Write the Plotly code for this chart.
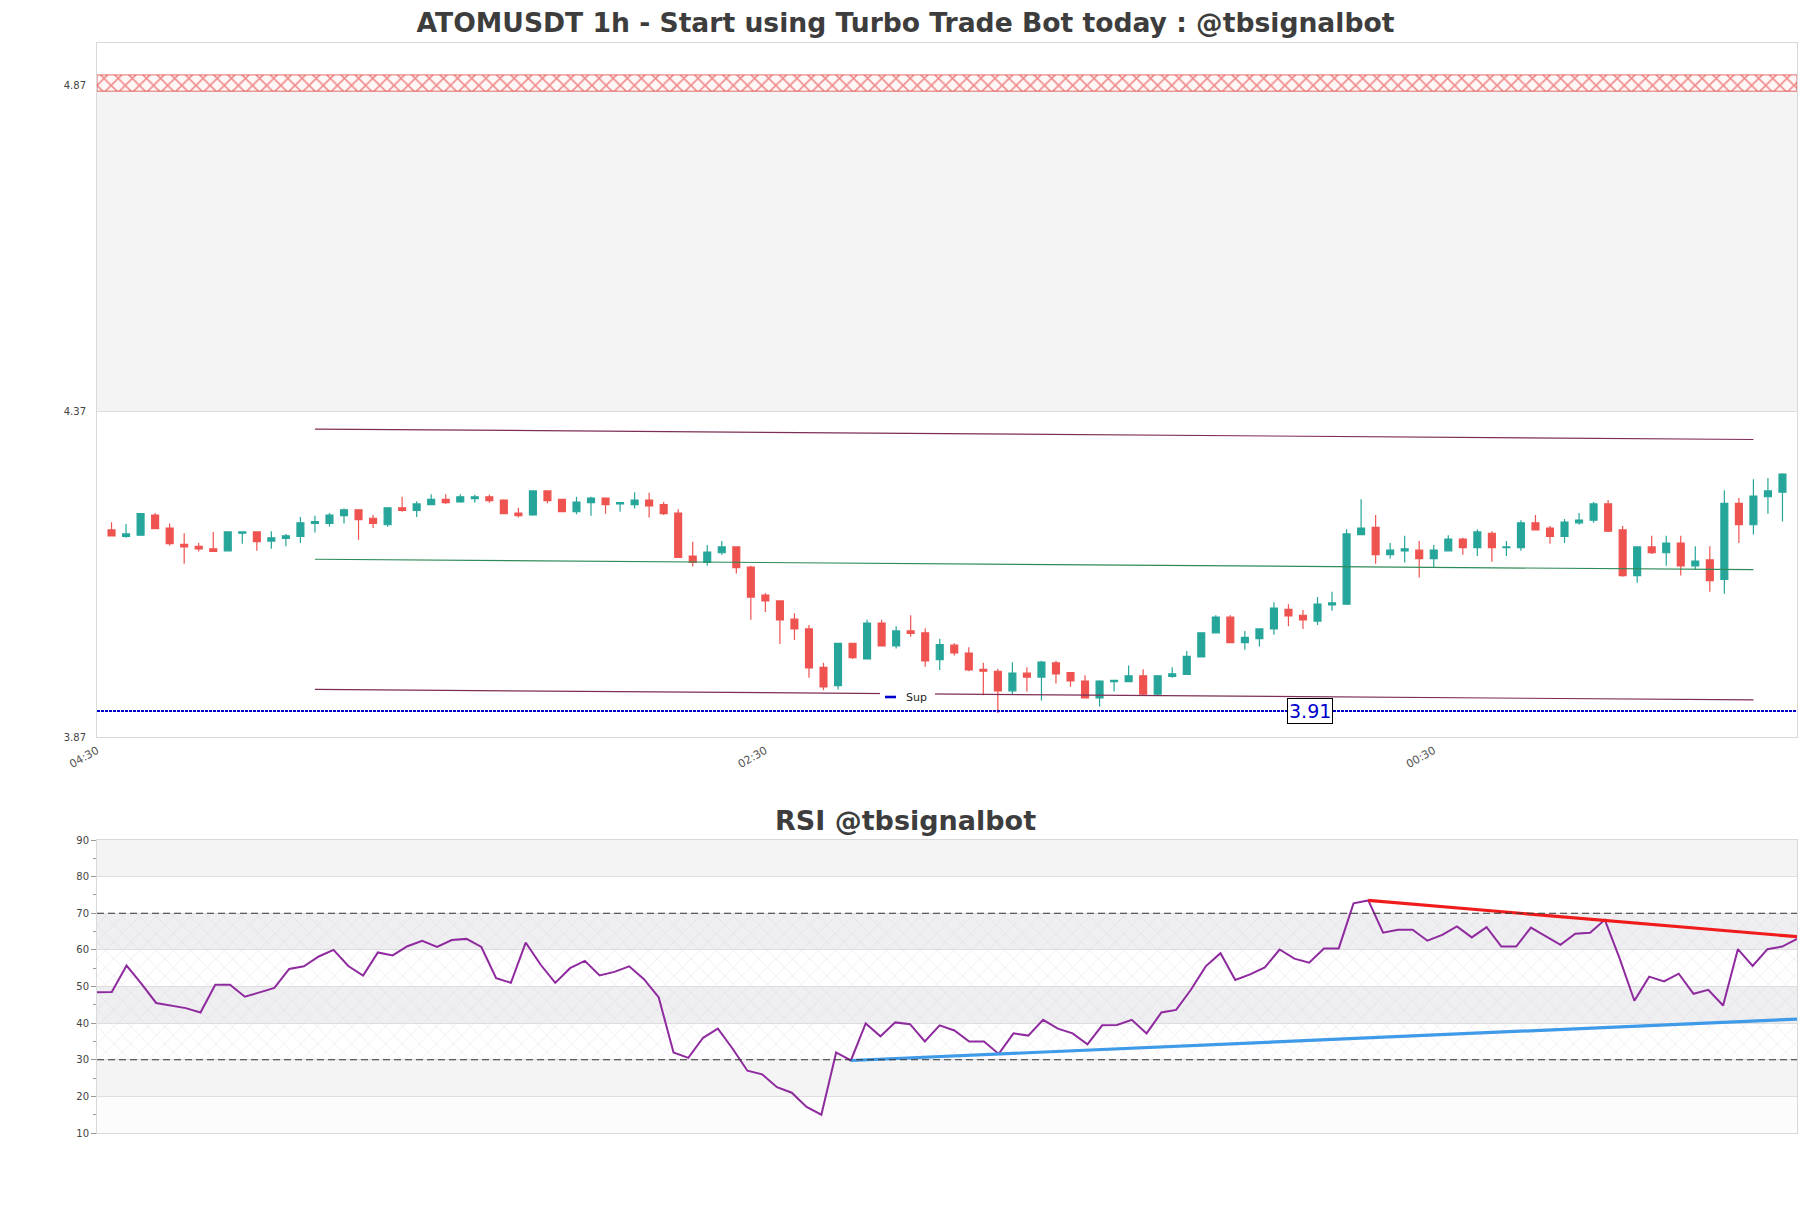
import plotly.graph_objects as go

# ---------------- data ----------------
x_tick_labels = ["04:30", "02:30", "00:30"]
x_tick_pos = [-1, 45, 91]

opens = [4.188, 4.178, 4.180, 4.211, 4.191, 4.166, 4.163, 4.159, 4.156, 4.183,
         4.185, 4.171, 4.175, 4.178, 4.198, 4.198, 4.210, 4.219, 4.206, 4.196,
         4.222, 4.218, 4.227, 4.235, 4.231, 4.236, 4.239, 4.234, 4.214, 4.211,
         4.248, 4.235, 4.216, 4.230, 4.237, 4.228, 4.227, 4.234, 4.227, 4.214,
         4.148, 4.138, 4.153, 4.162, 4.131, 4.088, 4.079, 4.051, 4.036, 3.977,
         3.949, 4.014, 3.990, 4.045, 4.010, 4.033, 4.030, 3.989, 4.011, 3.999,
         3.974, 3.971, 3.941, 3.968, 3.962, 3.984, 3.969, 3.956, 3.930, 3.955,
         3.955, 3.964, 3.936, 3.963, 3.966, 3.993, 4.030, 4.054, 4.015, 4.021,
         4.036, 4.066, 4.057, 4.048, 4.073, 4.074, 4.181, 4.192, 4.150, 4.156,
         4.157, 4.144, 4.156, 4.174, 4.161, 4.183, 4.161, 4.161, 4.199, 4.191,
         4.178, 4.199, 4.203, 4.228, 4.188, 4.118, 4.162, 4.153, 4.168, 4.133,
         4.142, 4.112, 4.229, 4.196, 4.239, 4.246]
highs = [4.200, 4.197, 4.214, 4.214, 4.198, 4.183, 4.168, 4.185, 4.186, 4.186,
         4.185, 4.186, 4.182, 4.208, 4.210, 4.214, 4.221, 4.219, 4.211, 4.222,
         4.239, 4.232, 4.243, 4.243, 4.243, 4.242, 4.242, 4.235, 4.222, 4.248,
         4.248, 4.236, 4.239, 4.239, 4.237, 4.230, 4.246, 4.245, 4.231, 4.220,
         4.170, 4.165, 4.171, 4.163, 4.133, 4.091, 4.079, 4.060, 4.042, 3.984,
         4.014, 4.014, 4.050, 4.050, 4.040, 4.057, 4.037, 4.021, 4.014, 4.008,
         3.984, 3.975, 3.985, 3.977, 3.987, 3.987, 3.970, 3.965, 3.957, 3.957,
         3.980, 3.974, 3.964, 3.977, 4.002, 4.031, 4.057, 4.057, 4.033, 4.037,
         4.077, 4.074, 4.065, 4.085, 4.093, 4.189, 4.235, 4.211, 4.168, 4.179,
         4.171, 4.165, 4.180, 4.176, 4.189, 4.186, 4.171, 4.203, 4.211, 4.194,
         4.205, 4.214, 4.231, 4.234, 4.194, 4.163, 4.179, 4.179, 4.179, 4.163,
         4.163, 4.249, 4.237, 4.266, 4.268, 4.275]
lows = [4.178, 4.176, 4.179, 4.189, 4.164, 4.136, 4.155, 4.154, 4.155, 4.167,
        4.156, 4.159, 4.163, 4.168, 4.184, 4.193, 4.198, 4.173, 4.191, 4.193,
        4.216, 4.208, 4.227, 4.228, 4.230, 4.230, 4.230, 4.213, 4.207, 4.210,
        4.229, 4.216, 4.212, 4.210, 4.213, 4.216, 4.221, 4.207, 4.211, 4.146,
        4.132, 4.133, 4.150, 4.121, 4.050, 4.062, 4.013, 4.019, 3.961, 3.942,
        3.943, 3.990, 3.990, 4.009, 4.006, 4.024, 3.978, 3.973, 3.995, 3.971,
        3.934, 3.907, 3.935, 3.940, 3.926, 3.952, 3.947, 3.929, 3.917, 3.940,
        3.955, 3.933, 3.933, 3.961, 3.966, 3.992, 4.029, 4.015, 4.004, 4.009,
        4.027, 4.040, 4.036, 4.042, 4.064, 4.074, 4.181, 4.136, 4.144, 4.138,
        4.115, 4.130, 4.155, 4.150, 4.148, 4.139, 4.148, 4.156, 4.188, 4.167,
        4.168, 4.196, 4.199, 4.185, 4.116, 4.107, 4.151, 4.133, 4.118, 4.127,
        4.093, 4.090, 4.168, 4.181, 4.213, 4.201]
closes = [4.179, 4.182, 4.213, 4.190, 4.167, 4.162, 4.159, 4.155, 4.185, 4.185,
          4.170, 4.176, 4.179, 4.199, 4.201, 4.211, 4.219, 4.204, 4.198, 4.222,
          4.218, 4.228, 4.235, 4.230, 4.239, 4.239, 4.233, 4.213, 4.210, 4.248,
          4.233, 4.216, 4.231, 4.237, 4.227, 4.230, 4.234, 4.225, 4.213, 4.146,
          4.138, 4.154, 4.162, 4.130, 4.085, 4.079, 4.050, 4.036, 3.976, 3.947,
          4.014, 3.992, 4.045, 4.010, 4.033, 4.029, 3.987, 4.012, 3.999, 3.973,
          3.971, 3.941, 3.968, 3.962, 3.985, 3.967, 3.956, 3.930, 3.956, 3.957,
          3.964, 3.936, 3.964, 3.967, 3.994, 4.030, 4.054, 4.015, 4.023, 4.036,
          4.068, 4.056, 4.050, 4.074, 4.076, 4.182, 4.191, 4.150, 4.157, 4.159,
          4.144, 4.157, 4.174, 4.161, 4.185, 4.161, 4.162, 4.199, 4.188, 4.178,
          4.200, 4.203, 4.228, 4.186, 4.118, 4.162, 4.153, 4.168, 4.133, 4.140,
          4.110, 4.229, 4.196, 4.240, 4.248, 4.274]

rsi = [48.4, 48.5, 55.7, 50.8, 45.5, 44.7, 44.1, 42.9, 50.5, 50.5,
       47.2, 48.4, 49.6, 54.8, 55.5, 58.2, 60.0, 55.6, 53.0, 59.3,
       58.5, 61.0, 62.5, 60.8, 62.7, 63.0, 60.8, 52.3, 51.0, 62.0,
       56.0, 51.0, 55.0, 57.0, 53.0, 54.0, 55.5, 52.0, 47.0, 32.0,
       30.5, 36.0, 38.5, 33.0, 27.0, 26.0, 22.5, 21.0, 17.1, 15.0,
       32.0, 29.8, 39.9, 36.4, 40.2, 39.7, 35.0, 39.4, 38.0, 35.0,
       35.0, 31.6, 37.2, 36.6, 40.9, 38.5, 37.2, 34.2, 39.4, 39.5,
       40.9, 37.2, 42.9, 43.6, 49.1, 55.5, 59.1, 51.8, 53.3, 55.2,
       60.1, 57.6, 56.5, 60.4, 60.4, 72.7, 73.5, 64.7, 65.5, 65.5,
       62.5, 64.1, 66.4, 63.4, 66.2, 60.9, 60.9, 66.1, 63.8, 61.4,
       64.4, 64.7, 68.2, 57.7, 46.1, 52.7, 51.4, 53.5, 48.0, 49.1,
       44.8, 60.2, 55.6, 60.2, 60.9, 63.0]

channel_x = [14, 113]
channel_upper = [4.343, 4.327]
channel_mid = [4.143, 4.127]
channel_lower = [3.943, 3.927]
support_level = 3.91
resistance_zone = [4.862, 4.887]
gray_zone = [4.37, 4.87]
price_ticks = [3.87, 4.37, 4.87]
price_range = [3.87, 4.936]

rsi_res_x = [86, 115]
rsi_res_y = [73.5, 63.6]
rsi_sup_x = [51, 115]
rsi_sup_y = [29.8, 41.1]
rsi_levels = [30, 70]
rsi_ticks = [10, 20, 30, 40, 50, 60, 70, 80, 90]

# ---------------- layout geometry ----------------
W, H = 1811, 1208
ML, MR, MT, MB = 97, 14, 43, 75
PW = W - ML - MR
PH = H - MT - MB


def px_x(p):
    return (p - ML) / PW


def px_y(p):
    return (H - MB - p) / PH


main_dom = [px_y(737), 1.0]
rsi_dom = [0.0, px_y(840)]
n = len(opens)
xs = list(range(n))
x_lo, x_hi = x_tick_pos[0], n
rx = list(range(len(rsi)))

FONT = "DejaVu Sans"
GREEN = "#26a69a"
RED = "#ef5350"

fig = go.Figure()

# resistance hatched zone
fig.add_trace(go.Scatter(
    x=[x_lo, x_hi, x_hi, x_lo, x_lo],
    y=[resistance_zone[0], resistance_zone[0], resistance_zone[1], resistance_zone[1], resistance_zone[0]],
    fill="toself", mode="lines", line=dict(width=0.8, color="rgba(215,30,30,0.8)"),
    fillcolor="rgba(255,255,255,1)",
    fillpattern=dict(shape="x", fgcolor="#e02020", bgcolor="#fff6f6", size=10, solidity=0.3),
    hoverinfo="skip", showlegend=False, xaxis="x", yaxis="y"))

# candles
fig.add_trace(go.Candlestick(
    x=xs, open=opens, high=highs, low=lows, close=closes,
    increasing=dict(line=dict(color=GREEN, width=1.2), fillcolor=GREEN),
    decreasing=dict(line=dict(color=RED, width=1.2), fillcolor=RED),
    whiskerwidth=0, showlegend=False, hoverinfo="skip", xaxis="x", yaxis="y"))

# channel lines
for ys, col in [(channel_upper, "#7d2e55"), (channel_mid, "#2e8b57"), (channel_lower, "#7d2e55")]:
    fig.add_trace(go.Scatter(x=channel_x, y=ys, mode="lines", line=dict(color=col, width=1.2),
                             hoverinfo="skip", showlegend=False, xaxis="x", yaxis="y"))

# RSI hatched zone 30-70
fig.add_trace(go.Scatter(
    x=[rx[0], rx[-1], rx[-1], rx[0], rx[0]],
    y=[rsi_levels[0], rsi_levels[0], rsi_levels[1], rsi_levels[1], rsi_levels[0]],
    fill="toself", mode="lines", line=dict(width=0), fillcolor="rgba(0,0,0,0)",
    fillpattern=dict(shape="x", fgcolor="#cfc6da", bgcolor="rgba(0,0,0,0)", size=12, solidity=0.1),
    hoverinfo="skip", showlegend=False, xaxis="x2", yaxis="y2"))

# RSI line
fig.add_trace(go.Scatter(x=rx, y=rsi, mode="lines", line=dict(color="#8e2a9e", width=2),
                         hoverinfo="skip", showlegend=False, xaxis="x2", yaxis="y2"))
fig.add_trace(go.Scatter(x=rsi_res_x, y=rsi_res_y, mode="lines", line=dict(color="#f01c1c", width=3.2),
                         hoverinfo="skip", showlegend=False, xaxis="x2", yaxis="y2"))
fig.add_trace(go.Scatter(x=rsi_sup_x, y=rsi_sup_y, mode="lines", line=dict(color="#3f9be8", width=3.2),
                         hoverinfo="skip", showlegend=False, xaxis="x2", yaxis="y2"))

shapes = []
# main gray band
shapes.append(dict(type="rect", xref="x domain", yref="y", x0=0, x1=1, y0=gray_zone[0], y1=gray_zone[1],
                   fillcolor="#f4f4f4", line=dict(width=0), layer="below"))
# RSI bands
for lo, hi, col in [(80, 90, "#f4f4f4"), (60, 70, "#efeff1"), (40, 50, "#efeff1"), (20, 30, "#f4f4f4"), (10, 20, "#fcfcfc")]:
    shapes.append(dict(type="rect", xref="x2 domain", yref="y2", x0=0, x1=1, y0=lo, y1=hi,
                       fillcolor=col, line=dict(width=0), layer="below"))
for lv in rsi_levels:
    shapes.append(dict(type="line", xref="x2 domain", yref="y2", x0=0, x1=1, y0=lv, y1=lv,
                       line=dict(color="#333333", width=1.2, dash="7px,4px"), layer="above"))
# support dotted line
shapes.append(dict(type="line", xref="x domain", yref="y", x0=0, x1=1, y0=support_level, y1=support_level,
                   line=dict(color="#0000cc", width=2, dash="3px,1px"), layer="above"))
# legend box "Sup"
shapes.append(dict(type="rect", xref="paper", yref="paper", x0=px_x(880), x1=px_x(935),
                   y0=px_y(705), y1=px_y(689), fillcolor="white", line=dict(width=0), layer="above"))
shapes.append(dict(type="line", xref="paper", yref="paper", x0=px_x(885), x1=px_x(896),
                   y0=px_y(697), y1=px_y(697), line=dict(color="#0000cc", width=2.6), layer="above"))

annotations = [
    dict(text="Sup", xref="paper", yref="paper", x=px_x(904), y=px_y(697), xanchor="left", yanchor="middle",
         showarrow=False, font=dict(family=FONT, size=11, color="#222222")),
    dict(text="%.2f" % support_level, xref="paper", yref="y", x=px_x(1310), y=support_level,
         xanchor="center", yanchor="middle", showarrow=False,
         font=dict(family=FONT, size=19, color="#0000cc"), bgcolor="white",
         bordercolor="black", borderwidth=1, borderpad=1),
    dict(text="<b>RSI @tbsignalbot</b>", xref="paper", yref="paper", x=px_x(W / 2), y=px_y(820),
         xanchor="center", yanchor="middle", showarrow=False,
         font=dict(family=FONT, size=27, color="#3d3d3d")),
]

axis_line = "#d9d9d9"
fig.update_layout(
    width=W, height=H,
    margin=dict(l=ML, r=MR, t=MT, b=MB, pad=0),
    paper_bgcolor="white", plot_bgcolor="white",
    font=dict(family=FONT, color="#444444"),
    hovermode=False,
    boxgap=0.32,
    title=dict(text="<b>ATOMUSDT 1h - Start using Turbo Trade Bot today : @tbsignalbot</b>",
               x=0.5, xanchor="center", xref="container", y=1 - 23 / H, yanchor="middle", yref="container",
               font=dict(family=FONT, size=26.6, color="#3d3d3d")),
    xaxis=dict(domain=[0, 1], anchor="y", range=[x_lo, x_hi], tickmode="array", tickvals=x_tick_pos,
               ticktext=x_tick_labels, tickangle=-30, tickfont=dict(size=11, color="#555555"),
               showgrid=False, zeroline=False, showline=True, mirror=True, linecolor=axis_line,
               rangeslider=dict(visible=False), ticks="outside", ticklen=2, tickcolor="rgba(0,0,0,0)"),
    yaxis=dict(domain=main_dom, anchor="x", range=price_range, tickmode="array", tickvals=price_ticks,
               ticktext=["%.2f" % v for v in price_ticks], tickfont=dict(size=10, color="#444444"),
               showgrid=True, gridcolor="#dedede", zeroline=False, showline=True, mirror=True,
               linecolor=axis_line, ticks="outside", ticklen=8, tickcolor="rgba(0,0,0,0)"),
    xaxis2=dict(domain=[0, 1], anchor="y2", range=[rx[0], rx[-1]], showticklabels=False, showgrid=False,
                zeroline=False, showline=True, mirror=True, linecolor=axis_line, ticks=""),
    yaxis2=dict(domain=rsi_dom, anchor="x2", range=[rsi_ticks[0], rsi_ticks[-1]], tickmode="array",
                tickvals=rsi_ticks, tickfont=dict(size=10, color="#444444"),
                showgrid=True, gridcolor="#dedede", zeroline=False, showline=True, mirror=True,
                linecolor=axis_line, ticks="outside", ticklen=5, tickcolor="#999999",
                minor=dict(dtick=5, ticks="outside", ticklen=3, tickcolor="#999999", showgrid=False)),
    shapes=shapes,
    annotations=annotations,
)

fig.write_html("out.html")
